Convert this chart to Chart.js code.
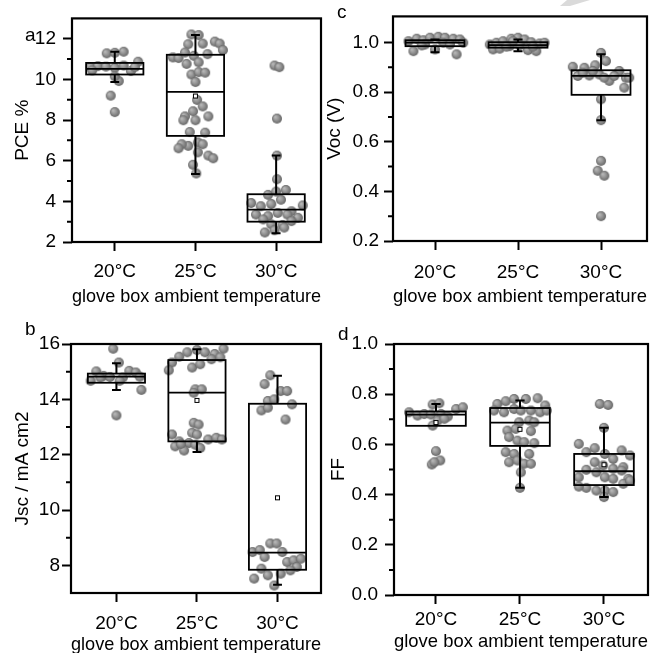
<!DOCTYPE html>
<html>
<head>
<meta charset="utf-8">
<script src="https://cdn.jsdelivr.net/npm/chart.js@4.4.1/dist/chart.umd.min.js"></script>
<style>
  html, body { margin: 0; padding: 0; background: #fff; overflow: hidden; }
  body { width: 655px; height: 653px; position: relative; font-family: 'Liberation Sans', Arial, sans-serif; }
  canvas, svg { position: absolute; }
  .tag { position: absolute; font-size: 19px; line-height: 19px; color: #000; }
</style>
</head>
<body>
<svg width="655" height="20" style="left:0;top:0"><polygon points="567,0 590,0 570,6 560,6" fill="#dadada"/></svg>
<canvas id="chart-pce" width="327" height="320" style="left:0;top:0"></canvas>
<canvas id="chart-voc" width="335" height="320" style="left:320px;top:0"></canvas>
<canvas id="chart-jsc" width="327" height="335" style="left:0;top:325px"></canvas>
<canvas id="chart-ff" width="335" height="335" style="left:320px;top:325px"></canvas>
<div class="tag" style="left:25px;top:25px">a</div>
<div class="tag" style="left:337px;top:2px">c</div>
<div class="tag" style="left:25px;top:319px">b</div>
<div class="tag" style="left:338px;top:324px">d</div>
<script>
const temps = ['20°C', '25°C', '30°C'];

// PCE %  (values + horizontal jitter in category units)
const pce20 = [11.28, 11.36, 11.31, 10.87, 10.60, 10.65, 10.63, 10.57, 10.68, 10.41, 10.60, 10.44, 9.92, 10.15, 9.20, 8.39];
const pce20x = [-0.10, 0.11, 0.00, 0.29, -0.30, -0.21, -0.11, 0.00, 0.11, 0.20, 0.25, -0.28, 0.05, 0.00, -0.05, 0.00];
const pce25 = [12.21, 12.18, 11.73, 11.76, 11.86, 11.76, 11.44, 11.08, 11.05, 11.32, 11.16, 11.24, 10.76, 10.84, 10.24, 10.36, 10.33, 9.87, 8.99, 8.67, 8.43, 8.18, 7.99, 7.99, 8.18, 7.41, 7.38, 6.90, 6.73, 6.81, 6.81, 6.61, 6.41, 6.25, 6.12, 5.80, 5.37];
const pce25x = [-0.05, 0.04, -0.09, 0.09, 0.24, 0.30, 0.34, -0.28, -0.21, -0.13, -0.02, 0.15, -0.11, 0.04, -0.05, 0.04, 0.12, 0.00, 0.02, 0.09, -0.03, -0.13, -0.15, 0.00, 0.16, -0.07, 0.12, 0.03, -0.09, -0.17, 0.09, -0.21, 0.03, 0.16, 0.22, -0.03, 0.01];
const pce30 = [10.68, 10.60, 8.07, 6.25, 5.09, 4.32, 4.48, 4.56, 3.92, 3.76, 3.87, 4.08, 3.51, 3.80, 3.35, 3.27, 3.43, 3.35, 3.19, 2.87, 2.84, 3.03, 3.11, 2.47, 2.58, 2.71];
const pce30x = [-0.02, 0.04, 0.01, 0.01, 0.01, -0.10, 0.00, 0.12, -0.31, -0.19, -0.06, 0.06, 0.19, 0.33, -0.25, -0.10, 0.02, 0.14, 0.27, -0.06, 0.08, 0.19, -0.16, -0.14, -0.02, 0.10];
const pceQ1 = [10.24, 7.22, 3.00];
const pceMed = [10.52, 9.39, 3.59];
const pceQ3 = [10.81, 11.21, 4.35];
const pceLo = [9.87, 5.35, 2.43];
const pceHi = [11.36, 12.18, 6.25];
const pceMean = [null, 9.18, null];
const pceTicks = [2, 4, 6, 8, 10, 12];
const pceMinor = [3, 5, 7, 9, 11];

// Voc (V)
const voc20 = [1.005, 1.015, 1.009, 1.019, 1.023, 1.019, 1.015, 1.012, 0.965, 0.952, 0.972, 0.992, 0.999, 0.992, 0.999, 0.988];
const voc20x = [-0.32, -0.22, -0.14, -0.06, 0.04, 0.12, 0.22, 0.30, -0.26, 0.26, 0.00, -0.12, 0.10, 0.18, 0.34, -0.16];
const voc25 = [0.992, 0.999, 1.005, 1.015, 1.019, 1.012, 1.001, 0.996, 0.999, 0.972, 0.975, 0.969, 0.965, 0.985, 0.988, 1.005, 0.983, 0.983];
const voc25x = [-0.34, -0.26, -0.18, -0.08, 0.00, 0.08, 0.16, 0.26, 0.32, -0.30, -0.22, 0.12, 0.22, -0.10, 0.02, -0.06, -0.14, 0.18];
const voc30 = [0.958, 0.925, 0.902, 0.898, 0.908, 0.885, 0.865, 0.867, 0.871, 0.845, 0.858, 0.865, 0.818, 0.858, 0.858, 0.878, 0.885, 0.771, 0.687, 0.523, 0.483, 0.463, 0.300];
const voc30x = [0.00, 0.06, -0.34, -0.20, -0.07, 0.22, -0.28, -0.14, -0.02, 0.10, 0.30, 0.16, 0.28, 0.34, 0.04, -0.22, -0.10, 0.00, 0.00, 0.00, -0.04, 0.04, 0.00];
const vocQ1 = [0.985, 0.979, 0.789];
const vocMed = [0.999, 0.989, 0.865];
const vocQ3 = [1.009, 1.001, 0.888];
const vocLo = [0.961, 0.965, 0.687];
const vocHi = [1.012, 1.012, 0.952];
const vocMean = [null, null, null];
const vocTicks = [0.2, 0.4, 0.6, 0.8, 1.0];
const vocMinor = [0.3, 0.5, 0.7, 0.9];

// Jsc / mA cm2
const jsc20 = [15.83, 15.33, 15.01, 14.85, 14.81, 14.79, 15.03, 14.97, 14.67, 14.82, 14.67, 14.34, 13.42, 14.79];
const jsc20x = [-0.04, 0.03, -0.25, -0.16, -0.08, 0.08, 0.16, 0.24, -0.32, 0.29, 0.04, 0.31, 0.00, -0.20];
const jsc25 = [15.70, 15.78, 15.70, 15.64, 15.83, 15.54, 15.33, 15.05, 15.15, 15.27, 15.45, 15.52, 14.36, 14.36, 14.24, 13.15, 13.09, 12.79, 12.73, 12.73, 12.48, 12.42, 12.55, 12.61, 12.55, 12.30, 12.15, 12.36, 12.24, 12.39];
const jsc25x = [-0.12, 0.00, 0.10, 0.22, 0.33, -0.22, -0.31, -0.35, -0.06, 0.04, 0.18, 0.29, -0.02, 0.06, -0.04, -0.04, 0.02, -0.06, 0.00, -0.31, -0.22, -0.10, 0.14, 0.24, 0.31, -0.27, -0.16, -0.02, 0.04, -0.20];
const jsc30 = [14.87, 14.55, 14.30, 14.30, 13.94, 14.00, 13.60, 13.70, 13.82, 13.27, 8.79, 8.79, 8.48, 8.55, 8.30, 8.48, 8.12, 8.18, 8.24, 7.94, 7.82, 7.88, 7.64, 7.70, 7.52, 7.27];
const jsc30x = [-0.09, -0.16, 0.04, 0.12, -0.12, -0.04, -0.20, -0.12, 0.18, 0.10, -0.09, -0.01, -0.31, -0.22, -0.16, 0.06, 0.12, 0.20, 0.29, 0.24, 0.16, -0.20, -0.12, 0.04, -0.29, -0.04];
const jscQ1 = [14.60, 12.48, 7.84];
const jscMed = [14.82, 14.24, 8.46];
const jscQ3 = [14.93, 15.42, 13.84];
const jscLo = [14.34, 12.10, 7.30];
const jscHi = [15.30, 15.81, 14.85];
const jscMean = [null, 13.96, 10.44];
const jscTicks = [8, 10, 12, 14, 16];
const jscMinor = [9, 11, 13, 15];

// FF
const ff20 = [0.759, 0.764, 0.728, 0.715, 0.721, 0.719, 0.721, 0.711, 0.741, 0.748, 0.695, 0.702, 0.675, 0.573, 0.536, 0.520, 0.529];
const ff20x = [-0.04, 0.04, -0.32, -0.22, -0.14, -0.06, 0.06, 0.14, 0.24, 0.32, 0.02, 0.10, -0.04, 0.00, 0.05, -0.05, -0.02];
const ff25 = [0.761, 0.772, 0.781, 0.781, 0.784, 0.755, 0.735, 0.728, 0.741, 0.735, 0.735, 0.728, 0.735, 0.688, 0.695, 0.688, 0.655, 0.662, 0.629, 0.653, 0.615, 0.609, 0.605, 0.569, 0.562, 0.562, 0.529, 0.536, 0.523, 0.523, 0.489, 0.427];
const ff25x = [-0.27, -0.17, -0.07, 0.07, 0.21, 0.30, -0.31, -0.19, -0.07, 0.01, 0.13, 0.24, 0.32, -0.01, 0.11, 0.17, -0.15, -0.05, -0.13, 0.13, -0.03, 0.05, 0.17, -0.17, -0.07, 0.11, -0.13, -0.03, 0.05, 0.13, 0.01, 0.00];
const ff30 = [0.761, 0.757, 0.666, 0.602, 0.569, 0.585, 0.562, 0.542, 0.576, 0.556, 0.529, 0.516, 0.503, 0.509, 0.499, 0.469, 0.489, 0.496, 0.463, 0.469, 0.463, 0.427, 0.416, 0.416, 0.410, 0.432, 0.443, 0.456, 0.390];
const ff30x = [-0.05, 0.05, 0.00, -0.30, -0.21, -0.11, 0.01, 0.11, 0.21, 0.31, -0.11, -0.01, 0.11, 0.23, -0.21, -0.30, -0.09, 0.21, 0.29, 0.01, 0.11, -0.21, -0.09, 0.01, 0.11, -0.30, 0.23, 0.31, 0.00];
const ffQ1 = [0.674, 0.594, 0.438];
const ffMed = [0.719, 0.687, 0.493];
const ffQ3 = [0.731, 0.745, 0.562];
const ffLo = [0.674, 0.427, 0.390];
const ffHi = [0.761, 0.775, 0.666];
const ffMean = [0.687, 0.660, 0.519];
const ffTicks = [0.0, 0.2, 0.4, 0.6, 0.8, 1.0];
const ffMinor = [0.1, 0.3, 0.5, 0.7, 0.9];

const font = { family: "'Liberation Sans', Arial, sans-serif", size: 19 };

// shaded grey ball used as the point marker
function sphere(r) {
  const c = document.createElement('canvas');
  const s = Math.ceil(r * 2 + 2);
  c.width = c.height = s;
  const g = c.getContext('2d');
  const grad = g.createRadialGradient(s / 2 - r * 0.35, s / 2 - r * 0.35, r * 0.1, s / 2, s / 2, r);
  grad.addColorStop(0, '#b8b8b8');
  grad.addColorStop(0.55, '#8f8f8f');
  grad.addColorStop(1, '#666');
  g.fillStyle = grad;
  g.beginPath();
  g.arc(s / 2, s / 2, r, 0, Math.PI * 2);
  g.fill();
  return c;
}
const ball = sphere(5);

// box, whiskers, mean, minor ticks and the closed frame
const boxPlugin = {
  id: 'boxes',
  afterDatasetsDraw(chart, args, o) {
    const { ctx, chartArea: a, scales: { x, y } } = chart;
    ctx.save();
    ctx.strokeStyle = '#000';
    o.q1.forEach((q1, i) => {
      const l = x.getPixelForValue(i - 0.355), r = x.getPixelForValue(i + 0.355);
      const cx = x.getPixelForValue(i);
      const cl = x.getPixelForValue(i - 0.055), cr = x.getPixelForValue(i + 0.055);
      const y1 = y.getPixelForValue(q1), y3 = y.getPixelForValue(o.q3[i]);
      const ym = y.getPixelForValue(o.med[i]);
      const ylo = y.getPixelForValue(o.lo[i]), yhi = y.getPixelForValue(o.hi[i]);
      ctx.lineWidth = 2;
      ctx.beginPath();
      ctx.moveTo(cx, y3); ctx.lineTo(cx, yhi);
      ctx.moveTo(cl, yhi); ctx.lineTo(cr, yhi);
      if (o.lo[i] < q1) {
        ctx.moveTo(cx, y1); ctx.lineTo(cx, ylo);
        ctx.moveTo(cl, ylo); ctx.lineTo(cr, ylo);
      }
      ctx.stroke();
      ctx.lineWidth = 1.8;
      ctx.strokeRect(l, y3, r - l, y1 - y3);
      ctx.beginPath(); ctx.moveTo(l, ym); ctx.lineTo(r, ym); ctx.stroke();
      if (o.mean[i] != null) {
        const yc = y.getPixelForValue(o.mean[i]);
        ctx.lineWidth = 1;
        ctx.fillStyle = '#fff';
        ctx.fillRect(cx - 2, yc - 2, 4, 4);
        ctx.strokeRect(cx - 2, yc - 2, 4, 4);
      }
    });
    ctx.lineWidth = 2;
    ctx.beginPath();
    o.minor.forEach(v => {
      const py = y.getPixelForValue(v);
      ctx.moveTo(a.left - 5, py); ctx.lineTo(a.left, py);
    });
    ctx.stroke();
    ctx.lineWidth = 2.2;
    ctx.strokeRect(a.left, a.top, a.right - a.left, a.bottom - a.top);
    ctx.restore();
  }
};

function pts(vals, offs, i) {
  return vals.map((v, k) => ({ x: i + offs[k], y: v }));
}

function makePanel(id, p) {
  const tickGrid = { drawOnChartArea: false, drawTicks: true, tickLength: 9, tickWidth: 2, tickColor: '#000', color: '#000' };
  return new Chart(document.getElementById(id), {
    type: 'scatter',
    data: {
      datasets: p.groups.map((g, i) => ({
        data: pts(g[0], g[1], i),
        pointStyle: ball,
        pointRadius: 5
      }))
    },
    options: {
      responsive: false,
      animation: false,
      layout: { padding: p.pad },
      plugins: {
        legend: { display: false },
        tooltip: { enabled: false },
        boxes: p.stats
      },
      scales: {
        x: {
          type: 'linear', min: p.xMin, max: p.xMax,
          afterBuildTicks: s => { s.ticks = temps.map((t, i) => ({ value: i })); },
          afterFit: s => { s.height = p.xHeight; },
          ticks: { callback: v => temps[v], color: '#000', font, padding: p.xTickPad, autoSkip: false, maxRotation: 0 },
          grid: tickGrid,
          border: { display: false },
          title: { display: true, text: 'glove box ambient temperature', color: '#000', font, padding: { top: 0, bottom: 0 } }
        },
        y: {
          min: p.yMin, max: p.yMax,
          afterBuildTicks: s => { s.ticks = p.yTicks.map(v => ({ value: v })); },
          afterFit: s => { s.width = p.yWidth; },
          ticks: { callback: v => v.toFixed(p.dec), color: '#000', font, padding: p.yTickPad },
          grid: tickGrid,
          border: { display: false },
          title: { display: true, text: p.yTitle, color: '#000', font, padding: { top: p.yTitlePad, bottom: 0 } }
        }
      }
    },
    plugins: [boxPlugin]
  });
}

makePanel('chart-pce', {
  groups: [[pce20, pce20x], [pce25, pce25x], [pce30, pce30x]],
  stats: { q1: pceQ1, med: pceMed, q3: pceQ3, lo: pceLo, hi: pceHi, mean: pceMean, minor: pceMinor },
  yMin: 2, yMax: 13, yTicks: pceTicks, dec: 0, yTitle: 'PCE %',
  xMin: -0.53, xMax: 2.556,
  pad: { left: 0, right: 5, top: 14, bottom: 11.6 },
  yWidth: 72, xHeight: 66.4, xTickPad: 9.5, yTickPad: 7, yTitlePad: 11.6
});

makePanel('chart-voc', {
  groups: [[voc20, voc20x], [voc25, voc25x], [voc30, voc30x]],
  stats: { q1: vocQ1, med: vocMed, q3: vocQ3, lo: vocLo, hi: vocHi, mean: vocMean, minor: vocMinor },
  yMin: 0.2, yMax: 1.105, yTicks: vocTicks, dec: 1, yTitle: 'Voc (V)',
  xMin: -0.506, xMax: 2.554,
  pad: { left: 0, right: 8, top: 15, bottom: 11.6 },
  yWidth: 73, xHeight: 67.4, xTickPad: 11.5, yTickPad: 5, yTitlePad: 3.6
});

makePanel('chart-jsc', {
  groups: [[jsc20, jsc20x], [jsc25, jsc25x], [jsc30, jsc30x]],
  stats: { q1: jscQ1, med: jscMed, q3: jscQ3, lo: jscLo, hi: jscHi, mean: jscMean, minor: jscMinor },
  yMin: 7, yMax: 16, yTicks: jscTicks, dec: 0, yTitle: 'Jsc / mA cm2',
  xMin: -0.564, xMax: 2.54,
  pad: { left: 0, right: 5, top: 19, bottom: 3.6 },
  yWidth: 71, xHeight: 63.4, xTickPad: 10.5, yTickPad: 2, yTitlePad: 11.6
});

makePanel('chart-ff', {
  groups: [[ff20, ff20x], [ff25, ff25x], [ff30, ff30x]],
  stats: { q1: ffQ1, med: ffMed, q3: ffQ3, lo: ffLo, hi: ffHi, mean: ffMean, minor: ffMinor },
  yMin: 0, yMax: 1, yTicks: ffTicks, dec: 1, yTitle: 'FF',
  xMin: -0.5, xMax: 2.524,
  pad: { left: 0, right: 7, top: 19, bottom: 6.6 },
  yWidth: 74, xHeight: 58.4, xTickPad: 4.5, yTickPad: 7, yTitlePad: 7.3
});
</script>
</body>
</html>
